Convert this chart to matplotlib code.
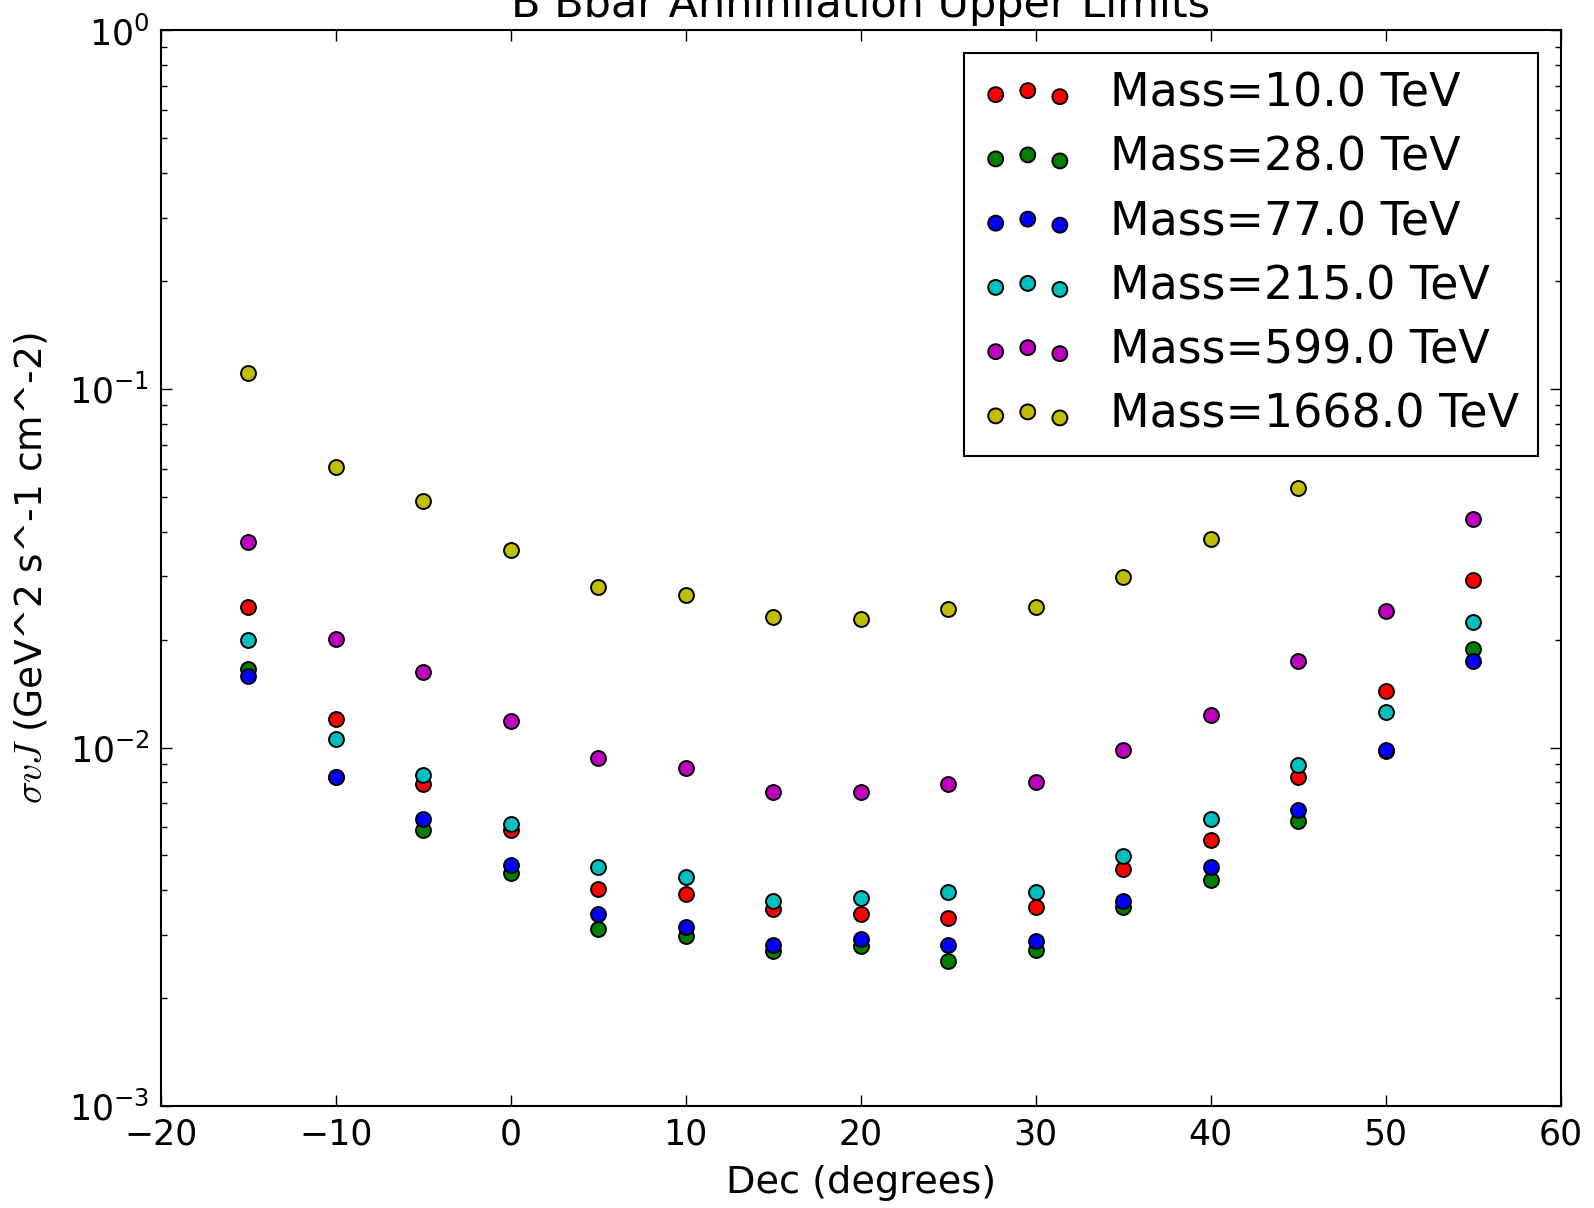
import numpy as np
import matplotlib
matplotlib.use("Agg")
import matplotlib.pyplot as plt

plt.rcParams['mathtext.fontset'] = 'cm'

# Data
dec = [-15, -10, -5, 0, 5, 10, 15, 20, 25, 30, 35, 40, 45, 50, 55]
masses = [10.0, 28.0, 77.0, 215.0, 599.0, 1668.0]
colors = ['r', 'g', 'b', 'c', 'm', 'y']

limit_10 = [0.0247, 0.0120, 0.00792, 0.00587, 0.00402, 0.00391, 0.00355, 0.00344,
            0.00335, 0.00360, 0.00458, 0.00553, 0.00829, 0.01435, 0.0294]
limit_28 = [0.01656, 0.0083, 0.00587, 0.00446, 0.00311, 0.00299, 0.00270, 0.00279,
            0.00254, 0.00273, 0.00360, 0.00426, 0.00622, 0.0098, 0.01888]
limit_77 = [0.01583, 0.0083, 0.00631, 0.00470, 0.00344, 0.00316, 0.00281, 0.00292,
            0.00281, 0.00288, 0.00374, 0.00464, 0.00668, 0.00983, 0.01746]
limit_215 = [0.0199, 0.01056, 0.0084, 0.0061, 0.00464, 0.00434, 0.00372, 0.00381,
             0.00396, 0.00396, 0.00498, 0.00631, 0.00891, 0.0126, 0.0224]
limit_599 = [0.0375, 0.0201, 0.01625, 0.01188, 0.00933, 0.00874, 0.00752, 0.00752,
             0.00792, 0.00803, 0.00983, 0.01235, 0.01746, 0.0240, 0.0435]
limit_1668 = [0.1108, 0.0604, 0.0487, 0.0356, 0.0281, 0.0267, 0.0231, 0.0228,
              0.0244, 0.0247, 0.0298, 0.0382, 0.0530, 0.075, 0.13]

limits = [limit_10, limit_28, limit_77, limit_215, limit_599, limit_1668]

# Figure
fig = plt.figure(figsize=(15.94, 12.08), dpi=100)
ax = fig.add_axes([0.1008, 0.0844, 0.8782, 0.8904])

for m, c, lim in zip(masses, colors, limits):
    ax.scatter(dec, lim, s=115, c=c, edgecolors='k', linewidths=1.4,
               label=f"Mass={m} TeV", zorder=3)

ax.set_yscale('log')
ax.set_xlim(-20, 60)
ax.set_ylim(1e-3, 1e0)

ax.set_title("B Bbar Annihilation Upper Limits", fontsize=31, pad=10)
ax.set_xlabel("Dec (degrees)", fontsize=27.5, labelpad=10)
ax.set_ylabel(r"$\sigma v J$ (GeV^2 s^-1 cm^-2)", fontsize=27, labelpad=14)

ax.tick_params(which='both', direction='in', top=True, right=True, labelsize=25)
ax.tick_params(which='major', length=8, width=1, pad=8)
ax.tick_params(which='minor', length=4.5, width=1)
for sp in ax.spines.values():
    sp.set_linewidth(1.5)

leg = ax.legend(loc='upper right', scatterpoints=3,
                scatteryoffsets=[0.375, 0.5, 0.3125], fontsize=33,
                fancybox=False, edgecolor='k', framealpha=1,
                labelspacing=0.42, borderaxespad=0.5)
leg.get_frame().set_linewidth(1.5)

fig.savefig("out.png", dpi=100)
